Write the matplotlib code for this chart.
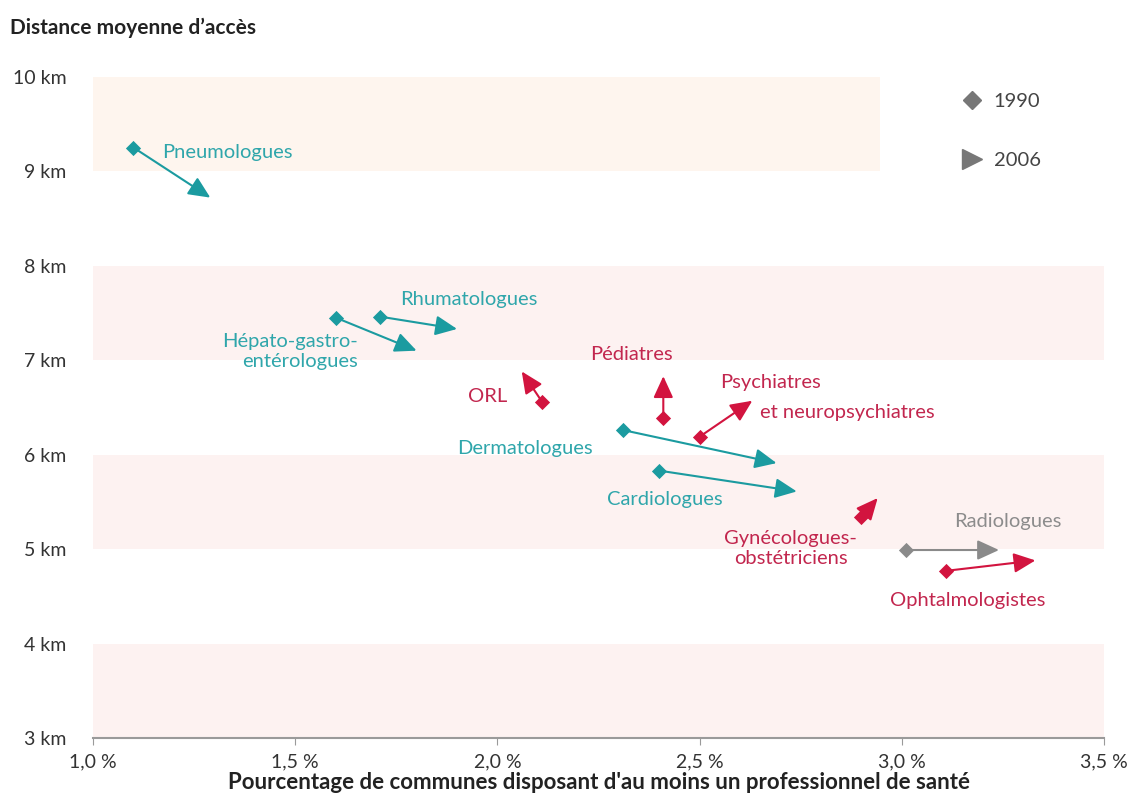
import matplotlib.pyplot as plt
from matplotlib.lines import Line2D

plt.rcParams['font.family'] = ['Lato', 'DejaVu Sans']

# données : % de communes (x) et distance moyenne d'accès en km (y)
specialites = ['Pneumologues', 'Hépato-gastro-entérologues', 'Rhumatologues', 'ORL',
               'Pédiatres', 'Psychiatres et neuropsychiatres', 'Dermatologues',
               'Cardiologues', 'Gynécologues-obstétriciens', 'Radiologues', 'Ophtalmologistes']
x_1990 = [1.10, 1.60, 1.71, 2.11, 2.41, 2.50, 2.31, 2.40, 2.90, 3.01, 3.11]
y_1990 = [9.25, 7.45, 7.46, 6.56, 6.39, 6.19, 6.26, 5.83, 5.34, 4.99, 4.77]
x_2006 = [1.29, 1.80, 1.90, 2.06, 2.41, 2.63, 2.69, 2.74, 2.94, 3.24, 3.33]
y_2006 = [8.72, 7.10, 7.33, 6.88, 6.83, 6.57, 5.91, 5.61, 5.54, 4.99, 4.88]
groupe = ['bleu', 'bleu', 'bleu', 'rouge', 'rouge', 'rouge', 'bleu', 'bleu', 'rouge', 'gris', 'rouge']

couleurs = {'bleu': '#1B9BA0', 'rouge': '#D2143F', 'gris': '#8A8A8A'}
couleurs_txt = {'bleu': '#2FA6AB', 'rouge': '#C2264E', 'gris': '#8C8C8C'}

x_ticks = [1.0, 1.5, 2.0, 2.5, 3.0, 3.5]
y_ticks = [3, 4, 5, 6, 7, 8, 9, 10]

fig = plt.figure(figsize=(11.29, 8.05), dpi=100)
ax = fig.add_axes([0.0824, 0.0832, 0.8956, 0.845])
ax.set_xlim(1.0, 3.5)
ax.set_ylim(3, 10.2)

# bandes de fond
ax.axhspan(9, 10, xmin=0, xmax=0.778, color='#FEF5EE', zorder=0, lw=0)
for b in [3, 5, 7]:
    ax.axhspan(b, b + 1, color='#FDF2F1', zorder=0, lw=0)

# flèches 1990 -> 2006
for i in range(len(specialites)):
    c = couleurs[groupe[i]]
    ax.annotate('', xy=(x_2006[i], y_2006[i]), xytext=(x_1990[i], y_1990[i]),
                arrowprops=dict(arrowstyle='-|>,head_length=1.2,head_width=0.55',
                                color=c, lw=1.5, shrinkA=0, shrinkB=0,
                                mutation_scale=11), zorder=3)
    ax.scatter(x_1990[i], y_1990[i], marker='D', s=60, color=c, zorder=4, lw=0)

# étiquettes
fs = 14.5
def lab(x, y, t, g, ha='left'):
    ax.text(x, y, t, color=couleurs_txt[g], fontsize=fs, ha=ha, va='center',
            linespacing=1.2)

lab(1.17, 9.20, 'Pneumologues', 'bleu')
lab(1.93, 7.64, 'Rhumatologues', 'bleu', ha='center')
lab(1.655, 7.09, 'Hépato-gastro-\nentérologues', 'bleu', ha='right')
lab(2.025, 6.62, 'ORL', 'rouge', ha='right')
lab(2.33, 7.06, 'Pédiatres', 'rouge', ha='center')
lab(2.55, 6.76, 'Psychiatres', 'rouge')
lab(2.65, 6.45, 'et neuropsychiatres', 'rouge')
lab(2.235, 6.06, 'Dermatologues', 'bleu', ha='right')
lab(2.272, 5.52, 'Cardiologues', 'bleu')
lab(2.725, 5.01, 'Gynécologues-\nobstétriciens', 'rouge', ha='center')
lab(3.13, 5.29, 'Radiologues', 'gris')
lab(2.97, 4.46, 'Ophtalmologistes', 'rouge')

# légende
handles = [Line2D([], [], marker='D', color='#777777', ls='none', markersize=9),
           Line2D([], [], marker='>', color='#777777', ls='none', markersize=14)]
ax.legend(handles, ['1990', '2006'], loc='upper left', bbox_to_anchor=(0.835, 0.975),
          frameon=False, fontsize=14.5, labelspacing=2.1, handletextpad=0.3,
          handlelength=1.6, labelcolor='#444444')

# axes
for s in ['top', 'right', 'left']:
    ax.spines[s].set_visible(False)
ax.spines['bottom'].set_color('#9A9A9A')
ax.spines['bottom'].set_linewidth(1.5)
ax.set_xticks(x_ticks)
ax.set_xticklabels([f'{v:.1f} %'.replace('.', ',') for v in x_ticks], fontsize=14, color='#333333')
ax.set_yticks(y_ticks)
ax.set_yticklabels([f'{v} km' for v in y_ticks], fontsize=14, color='#333333')
ax.tick_params(axis='y', length=0, pad=19)
ax.tick_params(axis='x', length=5, color='#9A9A9A', pad=6)
ax.set_xlabel("Pourcentage de communes disposant d'au moins un professionnel de santé",
              fontsize=16, fontweight='bold', color='#222222', labelpad=1)
fig.text(0.009, 0.965, 'Distance moyenne d\u2019accès', fontsize=15, fontweight='bold',
         color='#222222', va='center')

fig.savefig('out.png', dpi=100, facecolor='white')
